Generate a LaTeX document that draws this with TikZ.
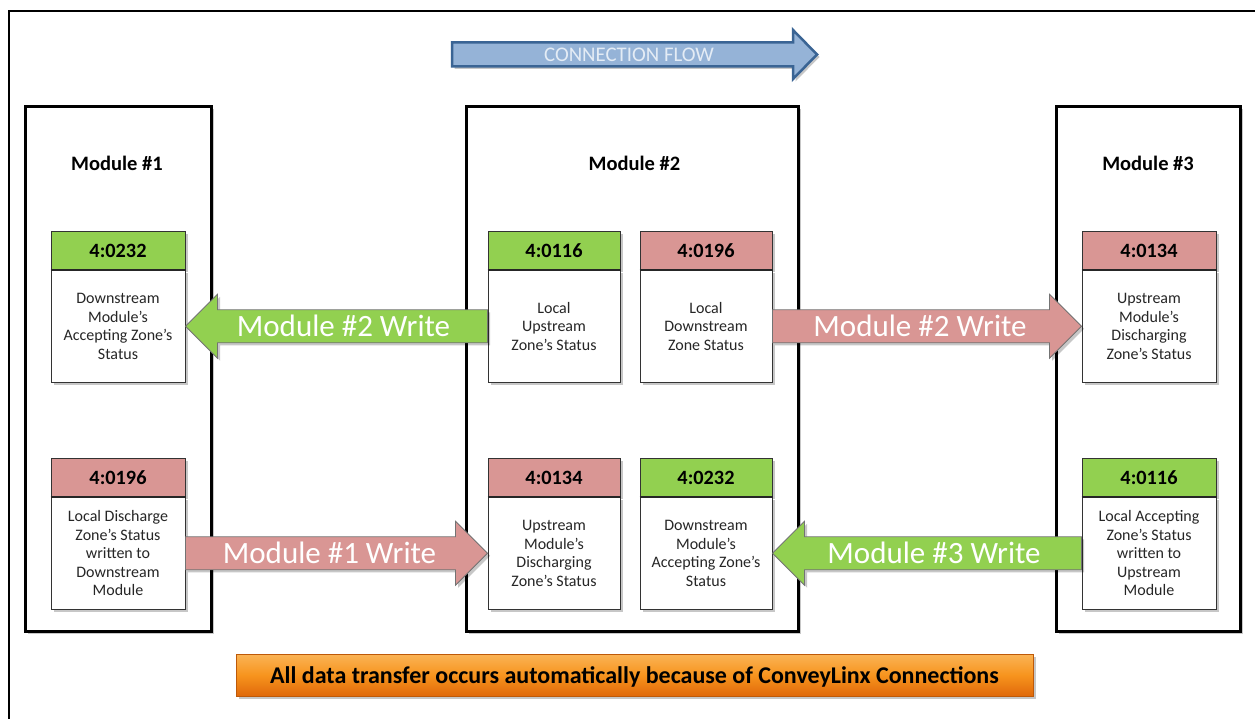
\documentclass[tikz,border=0pt]{standalone}
\usepackage{fontspec}
\setmainfont{Carlito}
\usetikzlibrary{calc,shadows}
\definecolor{zgreen}{HTML}{92D050}
\definecolor{zred}{HTML}{D99694}
\definecolor{fblue}{HTML}{95B3D7}
\definecolor{fblueD}{HTML}{3A6494}
\definecolor{ftext}{HTML}{E4ECF5}
\definecolor{otop}{HTML}{FAB456}
\definecolor{omid}{HTML}{F7941E}
\definecolor{obot}{HTML}{E0690A}
\definecolor{txt}{HTML}{262626}
\tikzset{
  softshadow/.style={drop shadow={shadow xshift=2.5pt,shadow yshift=-2.5pt,opacity=0.22,fill=black}},
  modbox/.style={draw=black, line width=3.5pt, fill=white, softshadow, minimum height=525pt, inner sep=0pt},
  modtitle/.style={anchor=base, font=\fontsize{20.5}{24}\selectfont\bfseries},
  hdr/.style={draw=black!80, line width=1pt, minimum height=38pt, inner sep=0pt, softshadow, font=\fontsize{20.3}{24}\selectfont\bfseries, anchor=north},
  zbody/.style={draw=black!80, line width=1pt, fill=white, minimum height=111.5pt, inner sep=0pt, softshadow, align=center, font=\fontsize{16}{18.6}\selectfont, text=txt, anchor=north},
  arrowbody/.style={draw=black!55, line width=0.8pt, softshadow},
  arrowtext/.style={anchor=base, text=white, font=\fontsize{31}{34}\selectfont},
}
\newcommand\zonebox[7]{%
  \node[hdr, fill=#5, minimum width=#4] (#1h) at (#2,#3) {#6};
  \node[zbody, minimum width=#4] (#1) at (#1h.south) {#7};
  \draw[line width=2pt, black!85] (#1h.south west) -- (#1h.south east);
}
\newcommand\blockarrow[4]{%
  \path[arrowbody, fill=#3] let \p1=(#1), \p2=(#2), \n1={ifthenelse(\x2>\x1,1,-1)} in
    (\x1,\y1+16.5pt) -- (\x2-\n1*32pt,\y1+16.5pt) -- (\x2-\n1*32pt,\y1+32pt) -- (\x2,\y1)
    -- (\x2-\n1*32pt,\y1-32pt) -- (\x2-\n1*32pt,\y1-16.5pt) -- (\x1,\y1-16.5pt) -- cycle;
  \path let \p1=(#1), \p2=(#2), \n1={ifthenelse(\x2>\x1,1,-1)} in
    node[arrowtext] at ({(\x1+\x2)/2-\n1*7pt},\y1-10pt) {#4};
}
\begin{document}
\begin{tikzpicture}[x=1pt,y=-1pt]
\useasboundingbox (0,0) rectangle (1255,719);
\fill[white] (0,0) rectangle (1255,719);
% outer frame (cropped at right and bottom)
\draw[line width=2pt] (1255,11) -- (9,11) -- (9,719);

% connection flow arrow
\path[fill=fblue, draw=fblueD, line width=2.5pt, softshadow]
  (452,42.5) -- (793,42.5) -- (793,30) -- (817,54.5) -- (793,79) -- (793,66.5) -- (452,66.5) -- cycle;
\node[text=ftext, font=\fontsize{20.8}{24}\selectfont] (flow) at (629,55) {CONNECTION FLOW};

% modules
\node[modbox, minimum width=186pt] (m1) at (118.5,369) {};
\node[modbox, minimum width=332pt] (m2) at (632.5,369) {};
\node[modbox, minimum width=184pt] (m3) at (1148.5,369) {};
\node[modtitle] (t1) at (117,171) {Module \#1};
\node[modtitle] (t2) at (634.5,171) {Module \#2};
\node[modtitle] (t3) at (1148,171) {Module \#3};

% zone boxes
\zonebox{b1t}{118}{231}{134pt}{zgreen}{4:0232}{Downstream\\Module’s\\Accepting Zone’s\\Status}
\zonebox{b2a}{554}{231}{132pt}{zgreen}{4:0116}{Local\\Upstream\\Zone’s Status}
\zonebox{b2b}{706}{231}{132pt}{zred}{4:0196}{Local\\Downstream\\Zone Status}
\zonebox{b3t}{1149}{231}{134pt}{zred}{4:0134}{Upstream\\Module’s\\Discharging\\Zone’s Status}
\zonebox{b1b}{118}{458}{134pt}{zred}{4:0196}{Local Discharge\\Zone’s Status\\written to\\Downstream\\Module}
\zonebox{b2c}{554}{458}{132pt}{zred}{4:0134}{Upstream\\Module’s\\Discharging\\Zone’s Status}
\zonebox{b2d}{706}{458}{132pt}{zgreen}{4:0232}{Downstream\\Module’s\\Accepting Zone’s\\Status}
\zonebox{b3b}{1149}{458}{134pt}{zgreen}{4:0116}{Local Accepting\\Zone’s Status\\written to\\Upstream\\Module}

% write arrows
\blockarrow{b2a.west}{b1t.east}{zgreen}{Module \#2 Write}
\blockarrow{b2b.east}{b3t.west}{zred}{Module \#2 Write}
\blockarrow{b1b.east}{b2c.west}{zred}{Module \#1 Write}
\blockarrow{b3b.west}{b2d.east}{zgreen}{Module \#3 Write}

% banner
\node[draw=obot!85!black, line width=0.6pt, top color=otop, bottom color=obot, middle color=omid,
      minimum width=797pt, minimum height=42pt, inner sep=0pt, softshadow] (banner) at (634.5,675) {};
\node[anchor=base, font=\fontsize{24}{28}\selectfont\bfseries] (bt) at (634.5,683.5)
  {All data transfer occurs automatically because of ConveyLinx Connections};
\end{tikzpicture}
\end{document}
